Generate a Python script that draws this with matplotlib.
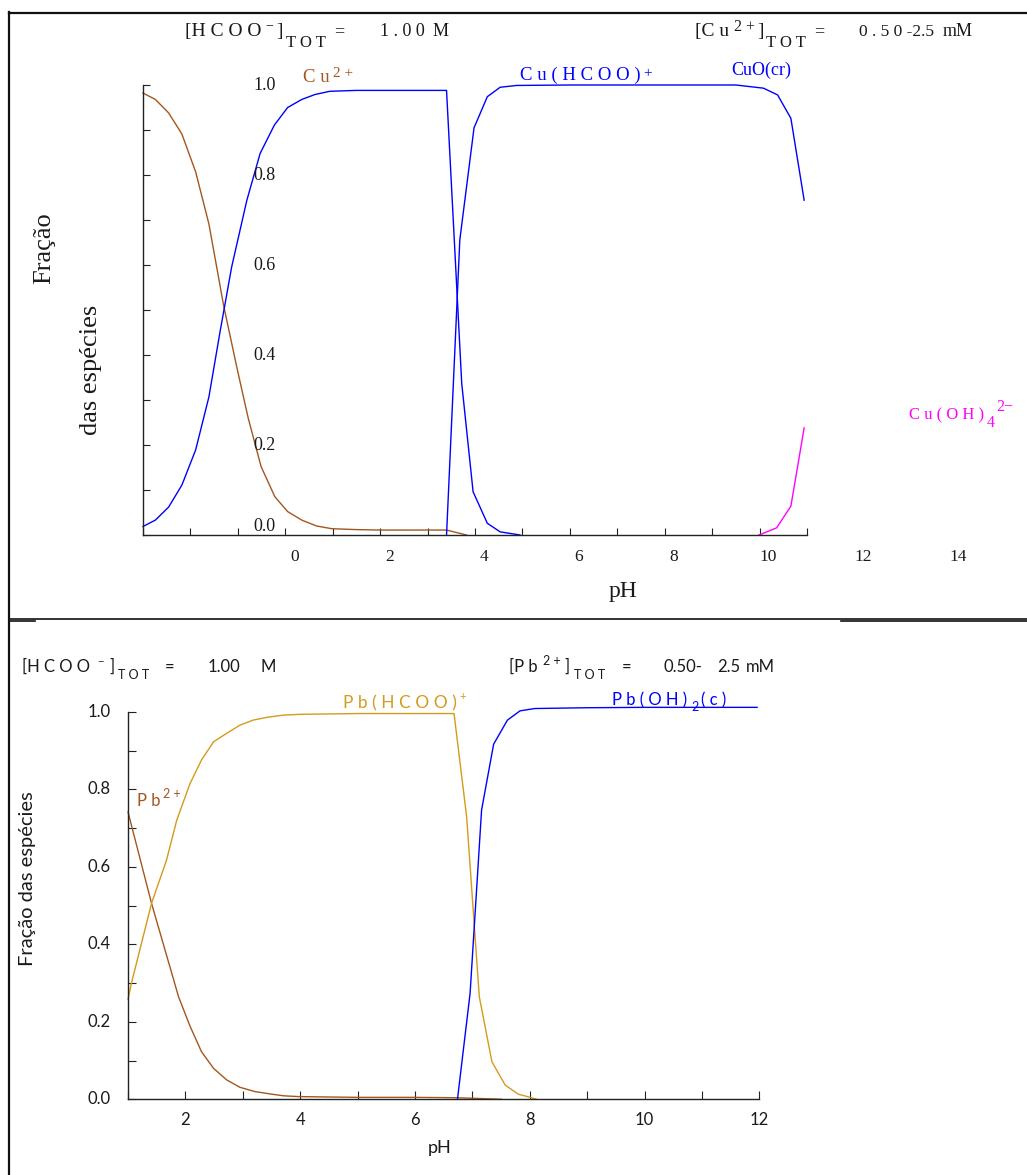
import numpy as np
import matplotlib
matplotlib.use("Agg")
from matplotlib import pyplot as plt
from matplotlib.lines import Line2D

# ---- top panel data: Cu(II) / formate ----
cu2_ph = [-3.0, -2.74, -2.46, -2.18, -1.89, -1.61, -1.30, -1.01, -0.78, -0.51, -0.22,
          0.05, 0.35, 0.66, 0.98, 1.5, 2.0, 2.5, 3.0, 3.40, 3.82]
cu2_frac = [0.982, 0.968, 0.938, 0.891, 0.807, 0.691, 0.51, 0.367, 0.259, 0.152, 0.085,
            0.052, 0.033, 0.020, 0.014, 0.012, 0.011, 0.011, 0.011, 0.011, 0.0]

cuf_ph = [-3.0, -2.74, -2.46, -2.18, -1.89, -1.61, -1.38, -1.13, -0.81, -0.53, -0.23,
          0.05, 0.35, 0.63, 0.94, 1.5, 2.0, 2.5, 3.0, 3.40, 3.72, 3.96, 4.26, 4.53, 4.95]
cuf_frac = [0.019, 0.033, 0.062, 0.111, 0.189, 0.307, 0.449, 0.596, 0.744, 0.848, 0.911,
            0.950, 0.968, 0.979, 0.986, 0.988, 0.988, 0.988, 0.988, 0.988, 0.337, 0.096,
            0.026, 0.007, 0.0]

cuo_ph = [3.40, 3.68, 3.98, 4.26, 4.53, 4.88, 6.0, 8.0, 9.5, 10.08, 10.38, 10.66, 10.94]
cuo_frac = [0.0, 0.656, 0.905, 0.974, 0.995, 0.999, 1.0, 1.0, 1.0, 0.993, 0.978, 0.926, 0.744]

cuoh4_ph = [9.99, 10.36, 10.66, 10.94]
cuoh4_frac = [0.0, 0.016, 0.064, 0.238]

top_xticklabels = [0, 2, 4, 6, 8, 10, 12, 14]
top_yticklabels = [0.0, 0.2, 0.4, 0.6, 0.8, 1.0]

# ---- bottom panel data: Pb(II) / formate ----
pb2_ph = [1.0, 1.41, 1.73, 1.88, 2.08, 2.28, 2.49, 2.72, 2.95, 3.21, 3.47, 3.71, 3.97,
          5.0, 6.0, 6.74, 7.51]
pb2_frac = [0.742, 0.506, 0.342, 0.265, 0.189, 0.123, 0.080, 0.050, 0.031, 0.020, 0.014,
            0.009, 0.007, 0.005, 0.005, 0.004, 0.0]

pbf_ph = [1.0, 1.06, 1.41, 1.67, 1.85, 2.08, 2.28, 2.49, 2.72, 2.95, 3.18, 3.41, 3.71,
          4.0, 5.0, 6.0, 6.68, 6.90, 7.12, 7.34, 7.57, 7.80, 7.96, 8.12]
pbf_frac = [0.258, 0.30, 0.506, 0.617, 0.721, 0.815, 0.876, 0.923, 0.945, 0.966, 0.979,
            0.986, 0.992, 0.994, 0.996, 0.996, 0.996, 0.729, 0.265, 0.097, 0.037, 0.013,
            0.007, 0.0]

pboh_ph = [6.74, 6.96, 7.16, 7.37, 7.61, 7.83, 8.09, 9.0, 10.0, 11.0, 11.96]
pboh_frac = [0.0, 0.274, 0.747, 0.917, 0.979, 1.003, 1.009, 1.011, 1.012, 1.012, 1.012]

bot_xticklabels = [2, 4, 6, 8, 10, 12]
bot_yticklabels = [0.0, 0.2, 0.4, 0.6, 0.8, 1.0]

BROWN = "#A4561E"
BLUE = "#0000FF"
MAGENTA = "#FF00FF"
GOLD = "#D49A1C"
INK = "#1a1a1a"
SERIF = "Liberation Serif"
SANS = "Lato"

W, H = 1027, 1175
fig = plt.figure(figsize=(W / 100, H / 100), dpi=100)


def put(x, y, s, **kw):
    kw.setdefault("va", "baseline")
    kw.setdefault("color", INK)
    return fig.text(x / W, 1 - y / H, s, **kw)


def axes_px(left, top, right, bottom):
    return fig.add_axes([left / W, 1 - bottom / H, (right - left) / W, (bottom - top) / H])


def hline(x0, x1, y, lw=1.6):
    fig.add_artist(Line2D([x0 / W, x1 / W], [1 - y / H, 1 - y / H], color="#111111", lw=lw))


def vline(x, y0, y1, lw=1.6):
    fig.add_artist(Line2D([x / W, x / W], [1 - y0 / H, 1 - y1 / H], color="#111111", lw=lw))


# frame lines
vline(9, 12, 1175)
hline(9, 1027, 13)
hline(9, 1027, 619, lw=1.2)
hline(9, 35, 621, lw=1.2)
hline(841, 1027, 621, lw=1.2)

# ================= top panel =================
ax = axes_px(143, 85, 807, 535)
ax.set_xlim(-3, 11)
ax.set_ylim(0, 1)
lw = 1.0
ax.plot(cu2_ph, cu2_frac, color=BROWN, lw=lw, clip_on=False)
ax.plot(cuf_ph, cuf_frac, color=BLUE, lw=lw, clip_on=False)
ax.plot(cuo_ph, cuo_frac, color=BLUE, lw=lw, clip_on=False)
ax.plot(cuoh4_ph, cuoh4_frac, color=MAGENTA, lw=lw, clip_on=False)
for s in ["top", "right"]:
    ax.spines[s].set_visible(False)
for s in ["left", "bottom"]:
    ax.spines[s].set_color("#222222")
    ax.spines[s].set_linewidth(1.0)
ax.set_xticks(np.arange(-3, 12, 1))
ax.set_yticks(np.arange(0, 1.01, 0.1))
ax.tick_params(direction="in", length=5, width=0.8, color="#222222",
               labelbottom=False, labelleft=False)
for v in top_xticklabels:
    ax.text(v + 0.19, -0.049, str(v), transform=ax.get_xaxis_transform(),
            ha="center", va="center", family=SERIF, fontsize=12.5, color=INK, clip_on=False)
for v in top_yticklabels:
    yy = v if v > 0 else 0.018
    ax.text(-0.43, yy, f"{v:.1f}", ha="center", va="center",
            family=SERIF, fontsize=13, color=INK, clip_on=False)

put(44, 248, "Fração", family=SERIF, fontsize=19, rotation=90, ha="center", va="center")
put(91, 370, "das espécies", family=SERIF, fontsize=19, rotation=90, ha="center", va="center")
put(623, 597, "pH", family=SERIF, fontsize=17, ha="center")

# header top
put(185, 36, "[H C O O", family=SERIF, fontsize=14)
put(265, 29, "\u2212", family=SERIF, fontsize=10)
put(276, 36, "]", family=SERIF, fontsize=14)
put(286, 47, "T O T", family=SERIF, fontsize=12)
put(334, 36, "=", family=SERIF, fontsize=13)
put(380, 36, "1 . 0 0", family=SERIF, fontsize=13)
put(433, 36, "M", family=SERIF, fontsize=13)

put(695, 36, "[C u", family=SERIF, fontsize=14)
put(734, 31, "2 +", family=SERIF, fontsize=11.5)
put(757, 36, "]", family=SERIF, fontsize=14)
put(766, 47, "T O T", family=SERIF, fontsize=12)
put(814, 36, "=", family=SERIF, fontsize=13)
put(859, 36, "0 . 5 0 -2.5", family=SERIF, fontsize=12.5)
put(943, 36, "mM", family=SERIF, fontsize=13)

# species labels top
put(303, 82, "C u", family=SERIF, fontsize=13.5, color=BROWN)
put(333, 77, "2 +", family=SERIF, fontsize=11, color=BROWN)
put(520, 80, "C u ( H C O O )", family=SERIF, fontsize=13.5, color=BLUE)
put(643, 77, "+", family=SERIF, fontsize=11, color=BLUE)
put(731, 75, "CuO(cr)", family=SERIF, fontsize=13, color=BLUE)
put(909, 419, "C u ( O H )", family=SERIF, fontsize=12, color=MAGENTA)
put(987, 427, "4", family=SERIF, fontsize=11.5, color=MAGENTA)
put(996, 411, "2\u2212", family=SERIF, fontsize=11.5, color=MAGENTA)

# ================= bottom panel =================
bx = axes_px(128, 712, 759.4, 1099.3)
bx.set_xlim(1, 12)
bx.set_ylim(0, 1)
bx.plot(pb2_ph, pb2_frac, color=BROWN, lw=lw, clip_on=False)
bx.plot(pbf_ph, pbf_frac, color=GOLD, lw=lw, clip_on=False)
bx.plot(pboh_ph, pboh_frac, color=BLUE, lw=lw, clip_on=False)
for s in ["top", "right"]:
    bx.spines[s].set_visible(False)
for s in ["left", "bottom"]:
    bx.spines[s].set_color("#222222")
    bx.spines[s].set_linewidth(1.0)
bx.set_xticks(np.arange(1, 13, 1))
bx.set_yticks(np.arange(0, 1.01, 0.1))
bx.tick_params(direction="in", length=6, width=0.8, color="#222222",
               labelbottom=False, labelleft=False)
for v in bot_xticklabels:
    bx.text(v, -0.054, str(v), transform=bx.get_xaxis_transform(),
            ha="center", va="center", family=SANS, fontsize=12, color=INK, clip_on=False)
for v in bot_yticklabels:
    bx.text(-0.027, v, f"{v:.1f}", transform=bx.get_yaxis_transform(),
            ha="right", va="center", family=SANS, fontsize=12, color=INK, clip_on=False)

put(28, 879, "Fração das espécies", family=SANS, fontsize=14.5, rotation=90,
    ha="center", va="center")
put(440, 1153, "pH", family=SANS, fontsize=13, ha="center")

bs = 12
put(22, 672, "[H C O O", family=SANS, fontsize=bs)
put(97, 664, "\u2212", family=SANS, fontsize=8)
put(109, 672, "]", family=SANS, fontsize=bs)
put(118, 679, "T O T", family=SANS, fontsize=9)
put(165, 672, "=", family=SANS, fontsize=bs)
put(208, 672, "1.00", family=SANS, fontsize=bs)
put(261, 672, "M", family=SANS, fontsize=bs)

put(509, 672, "[P b", family=SANS, fontsize=bs)
put(543, 665, "2 +", family=SANS, fontsize=9)
put(564, 672, "]", family=SANS, fontsize=bs)
put(574, 679, "T O T", family=SANS, fontsize=9)
put(622, 672, "=", family=SANS, fontsize=bs)
put(664, 672, "0.50-", family=SANS, fontsize=bs)
put(717, 672, "2.5", family=SANS, fontsize=bs)
put(746, 672, "mM", family=SANS, fontsize=bs)

put(343, 708, "P b ( H C O O )", family=SANS, fontsize=12.5, color=GOLD)
put(459, 700, "+", family=SANS, fontsize=8, color=GOLD)
put(137, 806, "P b", family=SANS, fontsize=12, color=BROWN)
put(163, 798, "2 +", family=SANS, fontsize=9, color=BROWN)
put(612, 705, "P b ( O H )", family=SANS, fontsize=12, color=BLUE)
put(691, 711, "2", family=SANS, fontsize=9, color=BLUE)
put(701, 705, "( c )", family=SANS, fontsize=12, color=BLUE)

fig.savefig("out.png", dpi=100)
